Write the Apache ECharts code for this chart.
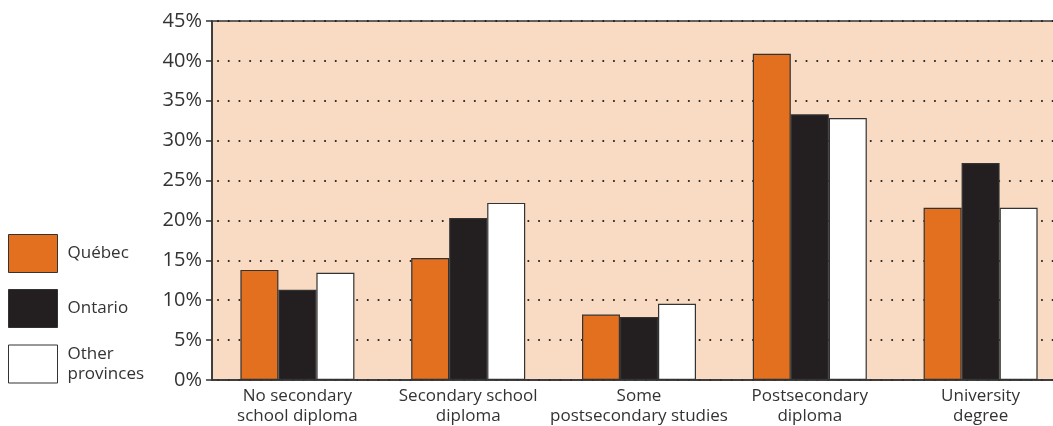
<!DOCTYPE html>
<html>
<head>
<meta charset="utf-8">
<script src="https://cdn.jsdelivr.net/npm/echarts@6/dist/echarts.min.js"></script>
<style>
  html, body { margin: 0; padding: 0; background: #ffffff; overflow: hidden; }
  #chart { width: 1053px; height: 426px; }
</style>
</head>
<body>
<div id="chart"></div>
<script>
// Share of population by highest level of schooling
const categories = [
  'No secondary\nschool diploma',
  'Secondary school\ndiploma',
  'Some\npostsecondary studies',
  'Postsecondary\ndiploma',
  'University\ndegree'
];
const seriesNames = ['Québec', 'Ontario', 'Other provinces'];
const quebec = [13.8, 15.3, 8.2, 40.9, 21.6];
const ontario = [11.3, 20.3, 7.9, 33.3, 27.2];
const otherProvinces = [13.45, 22.2, 9.55, 32.85, 21.6];
const yTicks = [0, 5, 10, 15, 20, 25, 30, 35, 40, 45];

const colors = ['#E3701E', '#231F20', '#FFFFFF'];
const font = 'Open Sans';
const textColor = '#333333';
const values = [quebec, ontario, otherProvinces];

const chart = echarts.init(document.getElementById('chart'), null, { renderer: 'canvas' });

chart.setOption({
  animation: false,
  backgroundColor: '#ffffff',
  textStyle: { fontFamily: font },
  grid: {
    left: 212, width: 854, top: 21, bottom: 46,
    outerBoundsMode: 'none',
    containLabel: false,
    show: true,
    backgroundColor: '#F9DBC3',
    borderColor: '#333333',
    borderWidth: 1.5
  },
  legend: {
    orient: 'vertical',
    left: 8, top: 234,
    padding: 0,
    itemWidth: 49, itemHeight: 38, itemGap: 16,
    icon: 'rect',
    data: seriesNames,
    formatter: name => name === 'Other provinces' ? 'Other\nprovinces' : name,
    textStyle: { fontFamily: font, fontSize: 17, color: textColor, lineHeight: 20, padding: [0, 0, 0, 5] },
    itemStyle: { borderColor: '#333333', borderWidth: 1 }
  },
  xAxis: {
    type: 'category',
    data: categories,
    axisLine: { show: true, lineStyle: { color: '#333333', width: 1.5 } },
    axisTick: { show: false },
    axisLabel: {
      fontFamily: font, fontSize: 17, color: textColor, lineHeight: 20,
      margin: 6, interval: 0
    }
  },
  yAxis: {
    type: 'value',
    min: 0, max: 45, interval: 5,
    axisLine: { show: true, lineStyle: { color: '#333333', width: 1.5 } },
    axisTick: { show: true, length: 6, lineStyle: { color: '#333333', width: 1.5 } },
    axisLabel: {
      fontFamily: font, fontSize: 20, color: textColor, margin: 10,
      formatter: v => yTicks.includes(v) ? v + '%' : ''
    },
    splitLine: {
      show: true,
      lineStyle: { color: '#222222', width: 2, type: [0.1, 10.6], cap: 'round', dashOffset: -6 }
    }
  },
  series: seriesNames.map((name, i) => ({
    name,
    type: 'bar',
    data: values[i],
    barWidth: 38,
    barGap: '0%',
    itemStyle: { color: colors[i], borderColor: '#333333', borderWidth: 1.2 }
  }))
});
</script>
</body>
</html>
